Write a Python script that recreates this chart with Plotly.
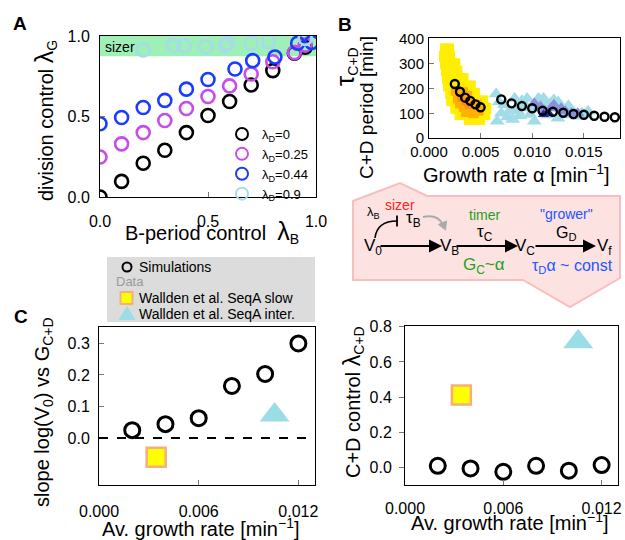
import plotly.graph_objects as go

W, H = 625, 540
FONT = "Liberation Sans, Arial, sans-serif"

# ---------------- Panel A data ----------------
lamB = [0.0, 0.1, 0.2, 0.3, 0.4, 0.5, 0.6, 0.7, 0.8, 0.9, 0.95]
lamG_D0 = [0.0, 0.097, 0.21, 0.29, 0.40, 0.506, 0.593, 0.696, 0.785, 0.893, 0.93]
lamG_D025 = [0.248, 0.33, 0.40, 0.475, 0.55, 0.624, 0.69, 0.764, 0.84, 0.897, 0.944]
lamB_D044 = [0.0, 0.1, 0.2, 0.3, 0.4, 0.5, 0.625, 0.707, 0.81, 0.915, 0.98]
lamG_D044 = [0.455, 0.494, 0.556, 0.60, 0.67, 0.73, 0.795, 0.847, 0.87, 0.955, 0.96]
lamB_D09 = [0.2, 0.34, 0.39, 0.49, 0.58, 0.59, 0.70, 0.78, 0.95]
lamG_D09 = [0.913, 0.94, 0.94, 0.934, 0.94, 0.955, 0.955, 0.965, 0.985]
A_names = ["λ<sub>D</sub>=0", "λ<sub>D</sub>=0.25", "λ<sub>D</sub>=0.44", "λ<sub>D</sub>=0.9"]
A_colors = ["#000000", "#C84BEA", "#1A3CFF", "#A6DCEA"]

# ---------------- Panel B data ----------------
B_sim_alpha = [0.0025, 0.003, 0.0035, 0.004, 0.0045, 0.005,
               0.007, 0.008, 0.009, 0.010, 0.011, 0.012, 0.013, 0.014, 0.015, 0.016, 0.017, 0.018]
B_sim_tau = [218, 187, 163, 150, 136, 124,
             156, 140, 129, 120, 110, 106, 102, 97, 94, 90, 86, 84]

slow_alpha = [0.0016, 0.0019, 0.0015, 0.0020, 0.0016, 0.0021, 0.0025, 0.0017, 0.0022, 0.0027,
              0.0018, 0.0024, 0.0029, 0.0033, 0.0019, 0.0025, 0.0030, 0.0036, 0.0040,
              0.0021, 0.0027, 0.0033, 0.0039, 0.0044, 0.0022, 0.0028, 0.0034, 0.0040, 0.0046, 0.0052,
              0.0026, 0.0032, 0.0038, 0.0044, 0.0050, 0.0055, 0.0030, 0.0036, 0.0042, 0.0048, 0.0054,
              0.0039, 0.0045, 0.0049]
slow_tau = [360, 360, 330, 330, 300, 300, 300, 270, 270, 270,
            240, 240, 240, 240, 210, 210, 210, 210, 210,
            180, 180, 180, 180, 180, 150, 150, 150, 150, 150, 150,
            120, 120, 120, 120, 120, 120, 95, 95, 95, 95, 95,
            75, 75, 75]
slow_mid_alpha = [0.0026, 0.0029, 0.0032, 0.0035, 0.0038, 0.0042, 0.0045, 0.0030, 0.0034,
                  0.0040, 0.0048, 0.0033, 0.0037, 0.0043, 0.0028, 0.0036, 0.0046]
slow_mid_tau = [190, 175, 160, 150, 140, 130, 120, 140, 125,
                115, 110, 185, 170, 100, 160, 105, 135]
slow_high_alpha = [0.0031, 0.0035, 0.0038]
slow_high_tau = [160, 145, 132]

inter_alpha = [0.0065, 0.0066, 0.0083, 0.0081, 0.0095, 0.0102, 0.0121, 0.0125, 0.0138, 0.0154,
               0.0144, 0.0111, 0.0073, 0.0086, 0.0115, 0.0131, 0.0070, 0.0092, 0.0100, 0.0108,
               0.0118, 0.0128, 0.0078, 0.0090, 0.0135, 0.0148, 0.0068, 0.0076, 0.0088, 0.0098,
               0.0106, 0.0125, 0.0140, 0.0152, 0.0085, 0.0113]
inter_tau = [178, 68, 160, 75, 160, 68, 154, 80, 114, 108,
             88, 160, 134, 108, 93, 93, 100, 130, 120, 150,
             140, 128, 110, 150, 130, 100, 145, 85, 90, 95,
             160, 145, 95, 95, 125, 140]
inter_mid_alpha = [0.0102, 0.0108, 0.0118, 0.0128, 0.0138, 0.0121, 0.0144, 0.0112, 0.0132]
inter_mid_tau = [140, 127, 120, 120, 100, 134, 100, 110, 108]
inter_high_alpha = [0.0111, 0.0116]
inter_high_tau = [95, 100]

# ---------------- Panels C / D data ----------------
av_rate = [0.002, 0.004, 0.006, 0.008, 0.010, 0.012]
slope_sim = [0.025, 0.044, 0.063, 0.165, 0.203, 0.300]
lamCD_sim = [0.011, -0.004, -0.023, 0.011, -0.017, 0.015]
slow_rate = [0.00344]
slow_slope = [-0.061]
slow_lamCD = [0.412]
inter_rate = [0.01057]
inter_slope = [0.073]
inter_lamCD = [0.715]
legend_C_labels = ["Simulations", "Data", "Wallden et al. SeqA slow", "Wallden et al. SeqA inter."]

YELLOW = "#FFFF00"
SQ_EDGE = "#F6AE7E"
LBLUE = "#9ADDE6"


def px(x):
    return x / W


def py(y):
    return 1 - y / H


def big(ch, size):
    return f"<span style='font-size:{size}px'>{ch}</span>"


fig = go.Figure()

# ---- Panel A traces
A_x = [lamB, lamB, lamB_D044, lamB_D09]
A_y = [lamG_D0, lamG_D025, lamG_D044, lamG_D09]
for xs, ys, nm, c in zip(A_x, A_y, A_names, A_colors):
    fig.add_trace(go.Scatter(x=xs, y=ys, mode="markers", name=nm, legend="legend",
                             marker=dict(symbol="circle-open", size=13, color=c, line=dict(width=2.6)),
                             xaxis="x", yaxis="y"))

# ---- Panel B traces
def bsc(x, y, sym, size, color):
    fig.add_trace(go.Scatter(x=x, y=y, mode="markers", showlegend=False,
                             marker=dict(symbol=sym, size=size, color=color, line=dict(width=0)),
                             xaxis="x2", yaxis="y2"))

bsc(slow_alpha, slow_tau, "square", 11, "#FFEE00")
bsc(slow_mid_alpha, slow_mid_tau, "square", 10, "#FFB000")
bsc(slow_high_alpha, slow_high_tau, "square", 7, "#FF8A20")
bsc(inter_alpha, inter_tau, "triangle-up", 13, "#A2DCE8")
bsc(inter_mid_alpha, inter_mid_tau, "triangle-up", 12, "#8A90DC")
bsc(inter_high_alpha, inter_high_tau, "triangle-up", 10, "#1A2AA8")
fig.add_trace(go.Scatter(x=B_sim_alpha, y=B_sim_tau, mode="markers", showlegend=False,
                         marker=dict(symbol="circle-open", size=8, color="black", line=dict(width=2.4)),
                         xaxis="x2", yaxis="y2"))

# ---- Panel C traces
fig.add_trace(go.Scatter(x=av_rate, y=slope_sim, mode="markers", showlegend=False,
                         marker=dict(symbol="circle-open", size=15, color="black", line=dict(width=3)),
                         xaxis="x3", yaxis="y3"))
fig.add_trace(go.Scatter(x=slow_rate, y=slow_slope, mode="markers", showlegend=False,
                         marker=dict(symbol="square", size=19, color=YELLOW, line=dict(width=2.5, color=SQ_EDGE)),
                         xaxis="x3", yaxis="y3"))
fig.add_trace(go.Scatter(x=inter_rate, y=inter_slope, mode="markers", showlegend=False,
                         marker=dict(symbol="triangle-up", size=26, color=LBLUE, line=dict(width=0)),
                         xaxis="x3", yaxis="y3"))

# ---- Panel D traces
fig.add_trace(go.Scatter(x=av_rate, y=lamCD_sim, mode="markers", showlegend=False,
                         marker=dict(symbol="circle-open", size=15, color="black", line=dict(width=3)),
                         xaxis="x4", yaxis="y4"))
fig.add_trace(go.Scatter(x=slow_rate, y=slow_lamCD, mode="markers", showlegend=False,
                         marker=dict(symbol="square", size=19, color=YELLOW, line=dict(width=2.5, color=SQ_EDGE)),
                         xaxis="x4", yaxis="y4"))
fig.add_trace(go.Scatter(x=inter_rate, y=inter_lamCD, mode="markers", showlegend=False,
                         marker=dict(symbol="triangle-up", size=26, color=LBLUE, line=dict(width=0)),
                         xaxis="x4", yaxis="y4"))


def ax(domain, rng, tickvals, ticktext, size=16, standoff=4, ticks="inside", anchor=None):
    d = dict(domain=domain, range=rng, tickvals=tickvals, ticktext=ticktext,
             showgrid=False, zeroline=False, showline=True, linecolor="black", linewidth=1,
             mirror=True, ticks=ticks, ticklen=5, tickcolor="#777", tickwidth=1,
             tickfont=dict(size=size, color="black", family=FONT),
             ticklabelstandoff=standoff, automargin=False)
    if anchor:
        d["anchor"] = anchor
    return d


layout = dict(
    width=W, height=H, autosize=False,
    margin=dict(l=0, r=0, t=0, b=0, pad=0, autoexpand=False),
    paper_bgcolor="white", plot_bgcolor="white",
    font=dict(family=FONT, color="black"),
    xaxis=ax([px(100), px(316)], [0, 1.0], [0, 0.5, 1.0], ["0.0", "0.5", "1.0"], 16, 10, anchor="y"),
    yaxis=ax([py(197), py(36)], [0, 1.0], [0, 0.5, 1.0], ["0.0", "0.5", "1.0"], 16, 6, anchor="x"),
    xaxis2=ax([px(429), px(620)], [0, 0.0185], [0, 0.005, 0.010, 0.015],
              ["0.000", "0.005", "0.010", "0.015"], 15, 0, anchor="y2"),
    yaxis2=ax([py(138), py(38)], [0, 404], [0, 100, 200, 300, 400],
              ["0", "100", "200", "300", "400"], 15, 1, anchor="x2"),
    xaxis3=ax([px(99), px(315)], [0, 0.013], [0, 0.006, 0.012],
              ["0.000", "0.006", "0.012"], 16, 12, anchor="y3"),
    yaxis3=ax([py(485), py(327)], [-0.149, 0.352], [0, 0.1, 0.2, 0.3],
              ["0.0", "0.1", "0.2", "0.3"], 16, 5, anchor="x3"),
    xaxis4=ax([px(405), px(618)], [0, 0.013], [0, 0.006, 0.012],
              ["0.000", "0.006", "0.012"], 16, 9, anchor="y4"),
    yaxis4=ax([py(485), py(326)], [-0.098, 0.804], [0, 0.2, 0.4, 0.6, 0.8],
              ["0.0", "0.2", "0.4", "0.6", "0.8"], 16, 4, ticks="outside", anchor="x4"),
    legend=dict(x=px(222), y=py(119), xanchor="left", yanchor="top",
                bgcolor="rgba(0,0,0,0)", font=dict(size=13), itemsizing="constant",
                tracegroupgap=0),
)
fig.update_layout(**layout)

shapes = []
# sizer band in A
shapes.append(dict(type="rect", xref="x", yref="y", x0=0, x1=1, y0=0.875, y1=1.0,
                   fillcolor="#9EF0B6", line=dict(width=0), layer="below"))
# dashed zero line in C
shapes.append(dict(type="line", xref="x3 domain", yref="y3", x0=0, x1=1, y0=0, y1=0,
                   line=dict(color="black", width=2, dash="dash")))


def P(x, y):
    return f"{px(x):.5f},{py(y):.5f}"


# legend box for panel C (keys)
shapes.append(dict(type="rect", xref="paper", yref="paper", x0=px(107), x1=px(315),
                   y0=py(322), y1=py(257), fillcolor="#DCDCDC", line=dict(width=0), layer="above"))
shapes.append(dict(type="circle", xref="paper", yref="paper", x0=px(122.5), x1=px(131.5),
                   y0=py(271.5), y1=py(262.5), line=dict(color="black", width=2), layer="above"))
shapes.append(dict(type="rect", xref="paper", yref="paper", x0=px(120.5), x1=px(132.5),
                   y0=py(304), y1=py(292), fillcolor=YELLOW, line=dict(color=SQ_EDGE, width=2),
                   layer="above"))
shapes.append(dict(type="path", xref="paper", yref="paper",
                   path=f"M {P(127, 306)} L {P(135.5, 320)} L {P(118.5, 320)} Z",
                   fillcolor=LBLUE, line=dict(width=0), layer="above"))

# pink schematic polygon
poly = [(353, 201), (400, 183), (427, 196), (620, 196), (620, 278), (570, 307), (523, 280), (353, 280)]
path = "M " + " L ".join(P(x, y) for x, y in poly) + " Z"
shapes.append(dict(type="path", xref="paper", yref="paper", path=path,
                   fillcolor="#FDE2E2", line=dict(color="#F8BDBD", width=2), layer="below"))
# inhibition arc lambda_B
shapes.append(dict(type="path", xref="paper", yref="paper",
                   path=f"M {P(375, 238)} Q {P(377, 221)} {P(397, 221)}",
                   line=dict(color="black", width=1.6)))
shapes.append(dict(type="line", xref="paper", yref="paper",
                   x0=px(397), x1=px(397), y0=py(215.5), y1=py(226.5),
                   line=dict(color="black", width=1.8)))
# grey curved arrow
shapes.append(dict(type="path", xref="paper", yref="paper",
                   path=f"M {P(423, 217)} Q {P(438, 214)} {P(443, 225)}",
                   line=dict(color="#AAAAAA", width=2)))
shapes.append(dict(type="path", xref="paper", yref="paper",
                   path=f"M {P(445.5, 230)} L {P(446.5, 221)} L {P(438.5, 224.5)} Z",
                   fillcolor="#AAAAAA", line=dict(color="#AAAAAA", width=1)))
fig.update_layout(shapes=shapes)

ann = []


def T(text, x, y, size=16, color="black", angle=0, bold=False, xanchor="center"):
    ann.append(dict(text=f"<b>{text}</b>" if bold else text, x=px(x), y=py(y),
                    xref="paper", yref="paper", showarrow=False, xanchor=xanchor,
                    yanchor="middle", textangle=angle,
                    font=dict(size=size, color=color, family=FONT)))


def ARR(x0, y0, x1, y1):
    ann.append(dict(text="", x=px(x1), y=py(y1), ax=x0 - x1, ay=y0 - y1,
                    xref="paper", yref="paper", axref="pixel", ayref="pixel",
                    showarrow=True, arrowhead=2, arrowsize=1.3, arrowwidth=2, arrowcolor="black"))


# panel letters
T("A", 20, 23, 19, bold=True)
T("B", 345, 25, 19, bold=True)
T("C", 21, 316, 19, bold=True)

# axis titles
T("division control " + big("λ", 25) + "<sub>G</sub>", 45, 121, 20, angle=-90)
T("B-period control  " + big("λ", 25) + "<sub>B</sub>", 212, 232, 20)
T(big("τ", 26) + "<sub>C+D</sub>", 345, 67, 20, angle=-90)
T("C+D period [min]", 367, 108, 19, angle=-90)
T("Growth rate α [min<sup>−1</sup>]", 516, 174, 20)
T("slope log(V<sub>0</sub>) vs G<sub>C+D</sub>", 43, 412, 20, angle=-90)
T("Av. growth rate [min<sup>−1</sup>]", 201, 527, 20)
T("C+D control " + big("λ", 23) + "<sub>C+D</sub>", 353, 402, 20, angle=-90)
T("Av. growth rate [min<sup>−1</sup>]", 510, 521, 20)

# legend texts for panel C
T(legend_C_labels[0], 137, 267, 14, xanchor="left")
T(legend_C_labels[1], 114, 281, 13, color="#9A9A9A", xanchor="left")
T(legend_C_labels[2], 137, 298, 14, xanchor="left")
T(legend_C_labels[3], 137, 314, 14, xanchor="left")

# sizer band label
T("sizer", 103, 47, 14, xanchor="left")

# schematic texts
T("sizer", 400, 205, 14, color="#FF2222")
T("λ<sub>B</sub>", 373, 213, 13)
T("τ<sub>B</sub>", 413, 219, 17)
T("V<sub>0</sub>", 373, 247, 17)
T("V<sub>B</sub>", 449, 247, 17)
T("timer", 484, 215, 14, color="#22A022")
T("τ<sub>C</sub>", 485, 233, 17)
T("G<sub>C</sub>~α", 484, 266, 17, color="#22A022")
T("V<sub>C</sub>", 525, 247, 17)
T("\"grower\"", 566, 214, 14, color="#2255FF")
T("G<sub>D</sub>", 566, 233, 16)
T("V<sub>f</sub>", 604, 247, 17)
T("τ<sub>D</sub>α ~ const", 572, 266, 16, color="#2255FF")

ARR(379, 246, 442, 246)
ARR(455, 246, 518, 246)
ARR(534, 246, 596, 246)

fig.update_layout(annotations=ann)

fig.write_html("out.html", config={"displayModeBar": False},
               post_script="document.body.style.margin='0';document.body.style.overflow='hidden';")
